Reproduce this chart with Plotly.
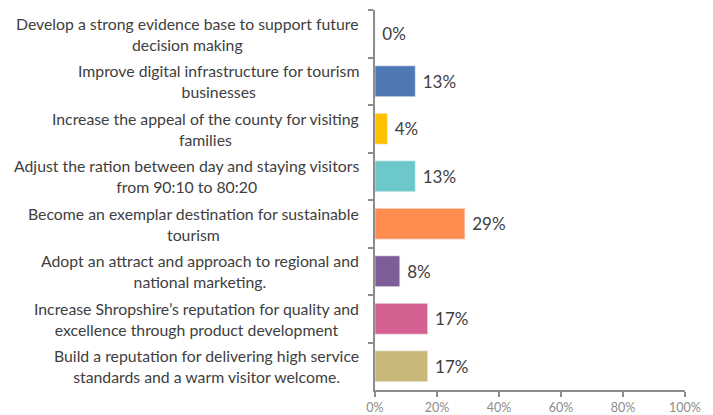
import plotly.graph_objects as go

categories = [
    "Develop a strong evidence base to support future<br>decision making",
    "Improve digital infrastructure for tourism<br>businesses",
    "Increase the appeal of the county for visiting<br>families",
    "Adjust the ration between day and staying visitors<br>from 90:10 to 80:20",
    "Become an exemplar destination for sustainable<br>tourism",
    "Adopt an attract and approach to regional and<br>national marketing.",
    "Increase Shropshire\u2019s reputation for quality and<br>excellence through product development",
    "Build a reputation for delivering high service<br>standards and a warm visitor welcome.",
]
values = [0, 13, 4, 13, 29, 8, 17, 17]
colors = ["#4E79B5", "#4E79B5", "#FFC000", "#6CC8CB", "#FF8C4F", "#7E5E98", "#D45F91", "#C8B97A"]

FONT = "Lato, Open Sans, sans-serif"
TEXT = "#404040"
AXIS = "#8C8C8C"

fig = go.Figure(
    go.Bar(
        y=categories,
        x=[v / 100 for v in values],
        orientation="h",
        marker=dict(color=colors, line=dict(color="#F2F2F2", width=0.6)),
        text=[f" {v}%" for v in values],
        textposition="outside",
        textfont=dict(family=FONT, size=17, color=TEXT),
        cliponaxis=False,
        hoverinfo="skip",
    )
)

# category labels: right-aligned block, centered lines
for cat in categories:
    fig.add_annotation(
        x=-0.045, xref="paper", y=cat, yref="y",
        text=cat, showarrow=False, xanchor="right", align="center",
        font=dict(family=FONT, size=15.8, color=TEXT),
    )

fig.update_layout(
    width=713, height=415,
    margin=dict(l=375, r=28, t=10, b=25, autoexpand=False),
    plot_bgcolor="white", paper_bgcolor="white",
    showlegend=False,
    bargap=0.35,
)
fig.update_xaxes(
    range=[0, 1], dtick=0.2, tickformat=".0%", automargin=False,
    showgrid=False, zeroline=False,
    showline=True, linecolor=AXIS, linewidth=1.5,
    ticks="outside", ticklen=5, tickcolor=AXIS, tickwidth=1.5,
    ticklabelstandoff=0,
    tickfont=dict(family=FONT, size=12.5, color=AXIS),
)
fig.update_yaxes(
    autorange="reversed", showticklabels=False, automargin=False,
    showgrid=False, zeroline=False,
    showline=True, linecolor=AXIS, linewidth=1.5,
    ticks="outside", ticklen=5, tickcolor=AXIS, tickwidth=1.5,
    tickson="boundaries",
)

fig.write_html("out.html")
